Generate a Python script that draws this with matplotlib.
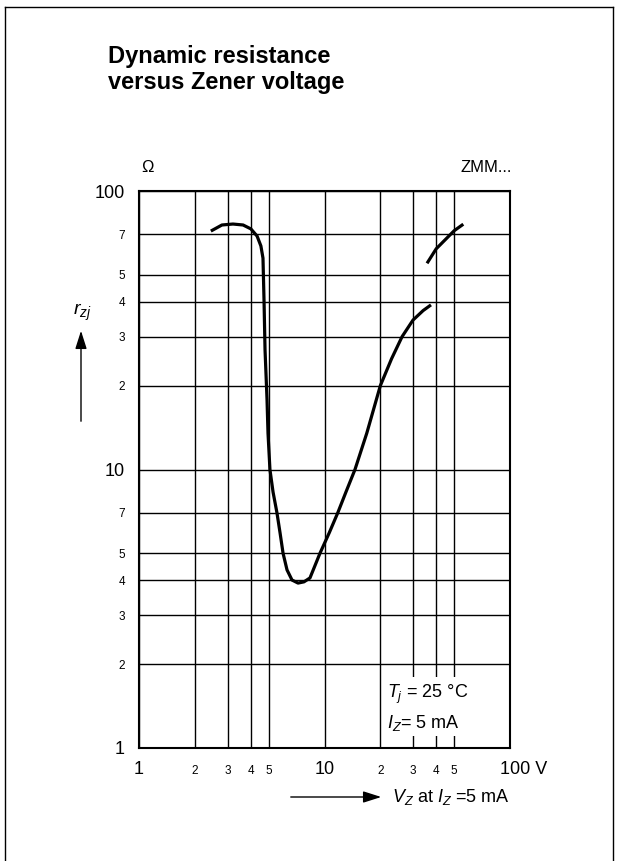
import matplotlib
matplotlib.use("Agg")
import matplotlib.pyplot as plt
from matplotlib.lines import Line2D
import matplotlib.transforms as mtransforms

# Kurvenwerte: Zenerspannung in V, dynamischer Widerstand in Ohm
vz_main = [2.44, 2.8, 3.21, 3.64, 4.01, 4.33, 4.54, 4.66, 4.72, 4.78, 4.9, 4.96, 5.08,
           5.28, 5.54, 5.76, 5.98, 6.28, 6.68, 7.2, 7.75, 8.35, 8.78, 9.45, 10.6, 11.8,
           13.05, 14.6, 16.9, 20.0, 23.0, 26.2, 30.0, 34.0, 37.5]
rz_main = [71.8, 75.5, 76.1, 75.5, 73.1, 68.9, 63.5, 57.4, 40.6, 26.9, 17.8, 13.5, 10.0,
           8.3, 7.0, 5.92, 5.0, 4.36, 4.01, 3.91, 3.95, 4.08, 4.43, 5.0, 5.92, 7.0,
           8.3, 10.0, 13.5, 20.0, 25.0, 30.0, 34.4, 37.2, 39.0]
vz_hi = [35.7, 40, 50, 56]
rz_hi = [55, 62, 72, 76]

x_major = [1, 10, 100]
x_minor = [2, 3, 4, 5, 20, 30, 40, 50]
y_major = [1, 10, 100]
y_minor = [2, 3, 4, 5, 7, 20, 30, 40, 50, 70]

plt.rcParams['font.family'] = ['Liberation Sans', 'DejaVu Sans']
plt.rcParams['mathtext.fontset'] = 'custom'
plt.rcParams['mathtext.rm'] = 'Liberation Sans'
plt.rcParams['mathtext.it'] = 'Liberation Sans:italic'

W, H = 618, 861
fig = plt.figure(figsize=(W / 100, H / 100), dpi=100)
ax = fig.add_axes([139 / W, 1 - 748 / H, (510 - 139) / W, (748 - 191) / H])

ax.set_xscale('log')
ax.set_yscale('log')
ax.set_xlim(1, 100)
ax.set_ylim(1, 100)

ax.plot(vz_main, rz_main, color='black', lw=2.3, solid_capstyle='butt', zorder=5)
ax.plot(vz_hi, rz_hi, color='black', lw=2.3, solid_capstyle='butt', zorder=5)

# Achsen / Gitter
ax.set_xticks(x_major)
ax.set_xticks(x_minor, minor=True)
ax.set_yticks(y_major)
ax.set_yticks(y_minor, minor=True)
ax.set_xticklabels(['1', '10', ''], fontsize=13)
ax.set_xticklabels([str(v) if v < 10 else str(v // 10) for v in x_minor], minor=True, fontsize=8.5)
ax.set_yticklabels(['1', '10', '100'], fontsize=13)
ax.set_yticklabels([str(v) if v < 10 else str(v // 10) for v in y_minor], minor=True, fontsize=8.5)
ax.tick_params(axis='x', which='major', length=0, pad=9)
ax.tick_params(axis='x', which='minor', length=0, pad=12)
ax.tick_params(axis='y', which='both', length=0, pad=10)
ax.grid(True, which='both', color='black', lw=1.0)
for s in ax.spines.values():
    s.set_linewidth(1.5)

# "100 V" als eigene Beschriftung
trans = mtransforms.blended_transform_factory(ax.transData, ax.transAxes)
ax.text(100 * 10 ** (-10 / 185.5), -0.0225, '100 V', transform=trans,
        ha='left', va='top', fontsize=13)

ax.text((387 - 139) / 371, (748 - 733) / 557, '$T_j$ = 25 °C\n$I_Z$= 5 mA', transform=ax.transAxes,
        fontsize=13, ha='left', va='bottom', linespacing=1.45, zorder=6,
        bbox=dict(facecolor='white', edgecolor='none', pad=2))

# Texte ausserhalb
def px(x, y):
    return (x / W, 1 - y / H)

fig.text(*px(108, 56), 'Dynamic resistance', fontsize=17, fontweight='bold', va='center')
fig.text(*px(108, 83), 'versus Zener voltage', fontsize=17, fontweight='bold', va='center')
fig.text(*px(148, 168), 'Ω', fontsize=12, ha='center', va='center')
fig.text(*px(512, 168), 'ZMM...', fontsize=12, ha='right', va='center')
fig.text(*px(82, 312), '$r_{zj}$', fontsize=14, ha='center', va='center')
fig.text(*px(392, 797), '$V_Z$ at $I_Z$ =5 mA', fontsize=13, ha='left', va='center')

arrow = dict(arrowstyle='-|>,head_length=1.1,head_width=0.35', color='black', lw=1.0)
ax.annotate('', xy=px(81, 328), xytext=px(81, 424), xycoords='figure fraction',
            textcoords='figure fraction', arrowprops=arrow, annotation_clip=False)
ax.annotate('', xy=px(384, 797), xytext=px(288, 797), xycoords='figure fraction',
            textcoords='figure fraction', arrowprops=arrow, annotation_clip=False)

# Rahmen (unten offen)
for xs, ys in [([5, 5], [7, 861]), ([5, 613], [7, 7]), ([613, 613], [7, 861])]:
    fig.add_artist(Line2D([x / W for x in xs], [1 - y / H for y in ys], color='black', lw=1.0))

plt.savefig('out.png', dpi=100)
